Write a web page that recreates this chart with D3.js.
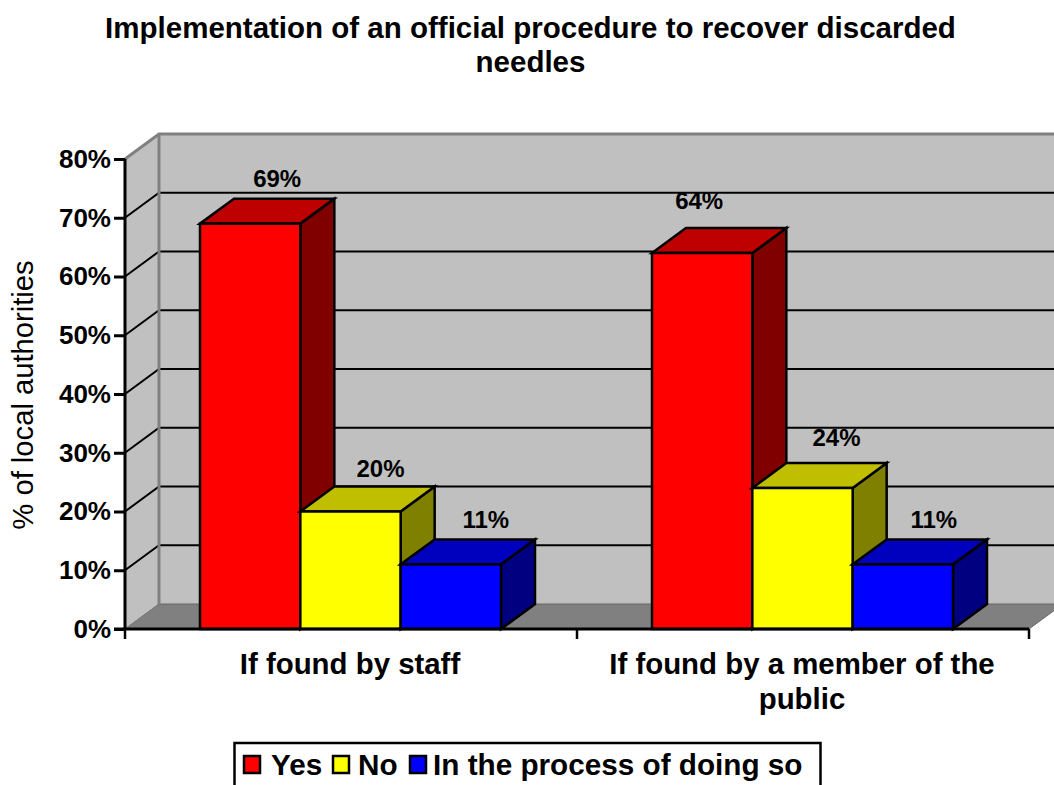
<!DOCTYPE html>
<html><head><meta charset="utf-8"><script src="https://cdnjs.cloudflare.com/ajax/libs/d3/7.8.5/d3.min.js"></script>
<style>html,body{margin:0;padding:0;background:#fff;overflow:hidden}svg{display:block}text{font-family:"Liberation Sans",Arial,sans-serif;fill:#000}</style></head><body><svg id="c" width="1054" height="785"></svg>
<script>
const categories=["If found by staff","If found by a member of the public"];
const categoryLines=[["If found by staff"],["If found by a member of the","public"]];
const seriesNames=["Yes","No","In the process of doing so"];
const yes=[69,64];
const no=[20,24];
const inProcess=[11,11];
const seriesValues=[yes,no,inProcess];
const front=["#ff0000","#ffff00","#0000ff"];
const topFace=["#bf0000","#bfbf00","#0000bf"];
const side=["#800000","#808000","#000080"];
const yTicks=[0,10,20,30,40,50,60,70,80];
const titleLines=["Implementation of an official procedure to recover discarded","needles"];
const yTitle="% of local authorities";

const dx=34,dy=-25;
const svg=d3.select("#c");
const y=d3.scaleLinear().domain([0,80]).range([629,159]);
const x0=d3.scaleBand().domain(categories).range([125,1029]);
const x1=d3.scaleBand().domain(seriesNames).range([75,x0.bandwidth()-76]).padding(0);
const pts=a=>a.map(p=>p.join(",")).join(" ");

const L=x0.range()[0],R=x0.range()[1];
svg.append("polygon").attr("points",pts([[L,y(0)],[L+dx,y(0)+dy],[L+dx,y(80)+dy],[L,y(80)]])).attr("fill","#c0c0c0");
svg.append("polygon").attr("points",pts([[L+dx,y(0)+dy],[R+dx,y(0)+dy],[R+dx,y(80)+dy],[L+dx,y(80)+dy]])).attr("fill","#c0c0c0");
svg.append("polygon").attr("points",pts([[L,y(0)],[R,y(0)],[R+dx,y(0)+dy],[L+dx,y(0)+dy]])).attr("fill","#808080").attr("stroke","#666").attr("stroke-width",1);
yTicks.filter(t=>t>0&&t<80).forEach(t=>{
  svg.append("polyline").attr("points",pts([[L,y(t)],[L+dx,y(t)+dy],[R+dx,y(t)+dy]])).attr("fill","none").attr("stroke","#000").attr("stroke-width",2);
});
svg.append("polyline").attr("points",pts([[L,y(80)],[L+dx,y(80)+dy],[R+dx,y(80)+dy]])).attr("fill","none").attr("stroke","#808080").attr("stroke-width",3);
svg.append("line").attr("x1",L+dx).attr("x2",L+dx).attr("y1",y(80)+dy).attr("y2",y(0)+dy).attr("stroke","#808080").attr("stroke-width",3);
svg.append("line").attr("x1",L).attr("x2",L+dx).attr("y1",y(0)).attr("y2",y(0)+dy).attr("stroke","#808080").attr("stroke-width",1);

categories.forEach((c,ci)=>{
  seriesNames.forEach((s,si)=>{
    const v=seriesValues[si][ci];
    const a=x0(c)+x1(s),b=a+x1.bandwidth(),t=y(v),z=y(0);
    const g=svg.append("g").attr("stroke","#000").attr("stroke-width",2.5).attr("stroke-linejoin","miter");
    g.append("polygon").attr("points",pts([[b,t],[b+dx,t+dy],[b+dx,z+dy],[b,z]])).attr("fill",side[si]);
    g.append("polygon").attr("points",pts([[a,t],[a+dx,t+dy],[b+dx,t+dy],[b,t]])).attr("fill",topFace[si]);
    g.append("rect").attr("x",a).attr("y",t).attr("width",b-a).attr("height",z-t).attr("fill",front[si]);
  });
});
// data label nudges, per series then category
const labelRaise=[[37,44],[35,42],[36,36]];
const labelShift=[[27,-3],[30,34],[35,31]];
categories.forEach((c,ci)=>{
  seriesNames.forEach((s,si)=>{
    const v=seriesValues[si][ci];
    const a=x0(c)+x1(s);
    svg.append("text").attr("x",a+x1.bandwidth()/2+labelShift[si][ci]).attr("y",y(v)-labelRaise[si][ci])
      .attr("text-anchor","middle").attr("font-size",24).attr("font-weight","bold").text(v+"%");
  });
});
const yAxis=d3.axisLeft(y).tickValues(yTicks).tickFormat(d=>d+"%").tickSize(11).tickPadding(3);
const ga=svg.append("g").attr("transform",`translate(${L},0)`).call(yAxis);
ga.selectAll("path.domain").attr("stroke","#000").attr("stroke-width",3).attr("d",`M0,${y(80)}V${y(0)}`);
ga.selectAll(".tick line").attr("stroke","#000").attr("stroke-width",3);
ga.selectAll("text").attr("font-size",26).attr("font-weight","bold").attr("font-family","Liberation Sans").attr("fill","#000");
const xa=svg.append("g");
xa.append("line").attr("x1",L-11).attr("x2",R).attr("y1",y(0)).attr("y2",y(0)).attr("stroke","#000").attr("stroke-width",3);
[L,x0(categories[1]),R].forEach(px=>xa.append("line").attr("x1",px).attr("x2",px).attr("y1",y(0)).attr("y2",y(0)+10).attr("stroke","#000").attr("stroke-width",2.5));
categories.forEach((c,ci)=>{
  categoryLines[ci].forEach((ln,i)=>{
    svg.append("text").attr("x",x0(c)+x0.bandwidth()/2-1).attr("y",674+i*35).attr("text-anchor","middle").attr("font-size",29.4).attr("font-weight","bold").text(ln);
  });
});
titleLines.forEach((ln,i)=>svg.append("text").attr("x",530.5).attr("y",38+i*34).attr("text-anchor","middle").attr("font-size",29.5).attr("font-weight","bold").text(ln));
svg.append("text").attr("transform","translate(33,395) rotate(-90)").attr("text-anchor","middle").attr("font-size",29.2).text(yTitle);
svg.append("rect").attr("x",234.5).attr("y",743).attr("width",586).attr("height",60).attr("fill","#fff").attr("stroke","#000").attr("stroke-width",2.5);
const legendX=[244,333,410];
const legendTextX=[271,358,433];
seriesNames.forEach((s,i)=>{
  svg.append("rect").attr("x",legendX[i]).attr("y",756).attr("width",16).attr("height",17).attr("fill",front[i]).attr("stroke","#000").attr("stroke-width",2.5);
  svg.append("text").attr("x",legendTextX[i]).attr("y",775).attr("font-size",29.7).attr("font-weight","bold").text(s);
});
</script></body></html>
